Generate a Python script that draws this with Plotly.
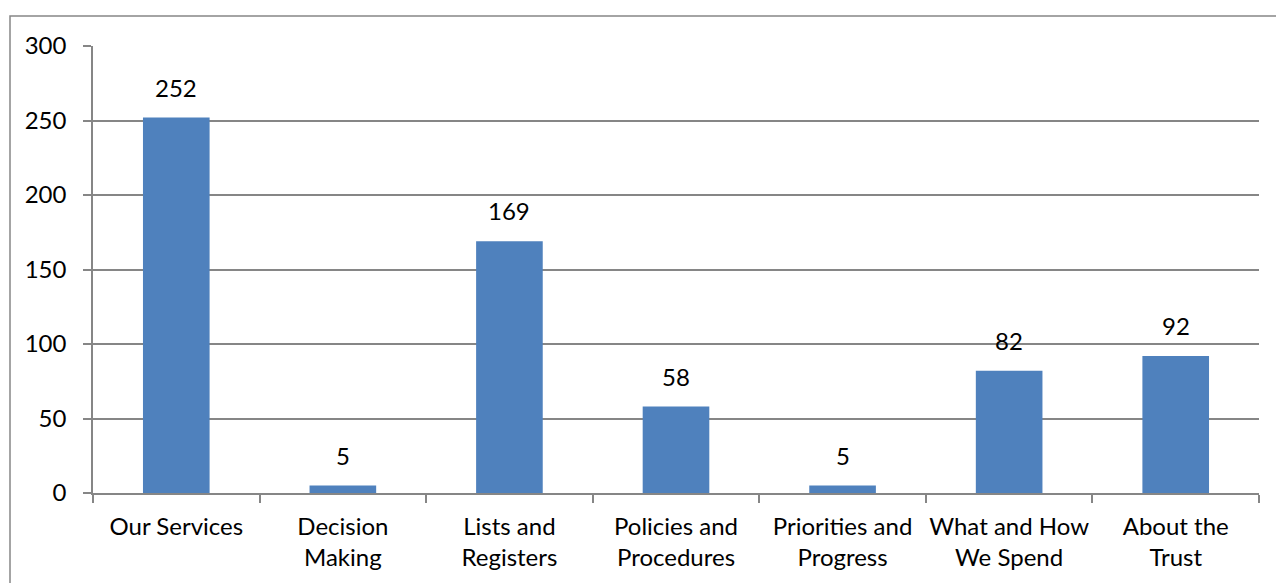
import plotly.graph_objects as go

categories = ["Our Services", "Decision<br>Making", "Lists and<br>Registers", "Policies and<br>Procedures",
              "Priorities and<br>Progress", "What and How<br>We Spend", "About the<br>Trust"]
values = [252, 5, 169, 58, 5, 82, 92]
y_ticks = [0, 50, 100, 150, 200, 250, 300]

W, H = 1276, 583
L, R, T, B = 93, 17, 46, 90
pw, ph = W - L - R, H - T - B

FONT = "Lato"
FS = 24
fig = go.Figure(go.Bar(
    x=categories, y=values,
    marker=dict(color="#4F81BD", line=dict(width=0)),
    width=0.4,
))

annotations = [dict(x=c, y=v, xref="x", yref="y", text=str(v), showarrow=False,
                    yanchor="bottom", yshift=14, font=dict(family=FONT, size=FS, color="#000000"))
               for c, v in zip(categories, values)]

fig.update_layout(
    width=W, height=H, margin=dict(l=L, r=R, t=T, b=B),
    paper_bgcolor="white", plot_bgcolor="white",
    showlegend=False,
    font=dict(family=FONT, size=FS, color="#000000"),
    xaxis=dict(
        type="category", tickangle=0, automargin=False,
        showline=True, linecolor="#868686", linewidth=1.5,
        ticks="outside", tickson="boundaries", ticklen=8, tickcolor="#868686", tickwidth=1.5,
        showgrid=False, zeroline=False, ticklabelstandoff=11,
    ),
    yaxis=dict(
        range=[0, 300], tickvals=y_ticks, automargin=False,
        showline=True, linecolor="#868686", linewidth=1.5,
        ticks="outside", ticklen=8, tickcolor="#868686", tickwidth=1.5,
        showgrid=True, gridcolor="#868686", gridwidth=1.5,
        zeroline=False, ticklabelstandoff=12,
    ),
    annotations=annotations,
    shapes=[dict(
        type="rect", xref="paper", yref="paper",
        x0=(10 - L) / pw, x1=(W + 5 - L) / pw,
        y0=-(H + 5 - T - ph) / ph, y1=1 + (T - 16) / ph,
        line=dict(color="#868686", width=1.5), fillcolor="rgba(0,0,0,0)", layer="below",
    )],
)

fig.write_html("out.html")
